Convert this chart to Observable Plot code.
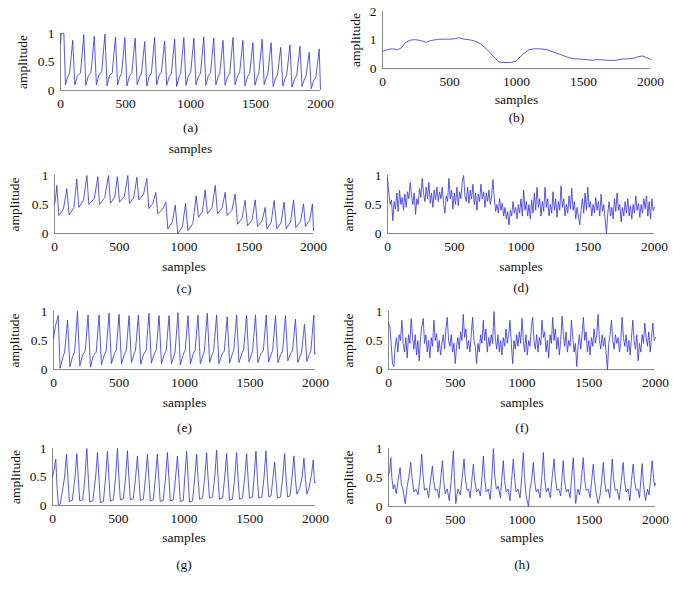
<!DOCTYPE html>
<html>
<head>
<meta charset="utf-8">
<script src="https://cdn.jsdelivr.net/npm/d3@7"></script>
<script src="https://cdn.jsdelivr.net/npm/@observablehq/plot@0.6"></script>
<style>
  body { margin: 0; background: #fff; }
  #wrap { position: relative; width: 673px; height: 589px; background: #fff; overflow: hidden; }
  #wrap svg { position: absolute; max-width: none; }
</style>
</head>
<body>
<div id="wrap"></div>
<script>
// ---------- tick labels ----------
const xTicks = [0, 500, 1000, 1500, 2000];
const yTicks = [0, 0.5, 1];
const yTicksB = [0, 1, 2];
const panelTags = ["(a)", "(b)", "(c)", "(d)", "(e)", "(f)", "(g)", "(h)"];
const xLabel = "samples";
const yLabel = "amplitude";

// ---------- series (sample, amplitude) ----------
const seriesA = [[0,0.82],[6,1],[26,1],[38,0.1],[55,0.24],[70,0.3],
[94,0.88],[110,0.1],[129,0.25],[154,0.31],
[179,0.98],[195,0.09],[214,0.26],[235,0.32],
[260,0.95],[276,0.1],[295,0.27],[317,0.33],
[342,0.99],[358,0.08],[377,0.26],[398,0.31],
[423,0.94],[439,0.1],[458,0.25],[470,0.3],
[495,0.93],[511,0.08],[530,0.25],[549,0.31],
[574,0.92],[590,0.1],[609,0.24],[623,0.3],
[648,0.86],[664,0.08],[683,0.25],[699,0.3],
[724,0.93],[740,0.1],[759,0.27],[776,0.32],
[801,0.87],[817,0.09],[836,0.24],[853,0.3],
[878,0.9],[894,0.07],[913,0.25],[924,0.3],
[949,0.93],[965,0.09],[984,0.26],[1001,0.31],
[1026,0.92],[1042,0.1],[1061,0.25],[1077,0.3],
[1102,0.94],[1118,0.09],[1137,0.26],[1154,0.31],
[1179,0.92],[1195,0.1],[1214,0.25],[1225,0.3],
[1250,0.88],[1266,0.09],[1285,0.24],[1302,0.3],
[1327,0.93],[1343,0.1],[1362,0.26],[1378,0.31],
[1403,0.88],[1419,0.08],[1438,0.24],[1455,0.3],
[1480,0.84],[1496,0.09],[1515,0.25],[1526,0.3],
[1551,0.9],[1567,0.1],[1586,0.24],[1595,0.29],
[1620,0.84],[1636,0.07],[1655,0.22],[1669,0.27],
[1694,0.76],[1710,0.08],[1729,0.22],[1740,0.27],
[1765,0.8],[1781,0.06],[1800,0.2],[1817,0.26],
[1842,0.78],[1858,0.07],[1877,0.2],[1888,0.25],
[1913,0.67],[1929,0.03],[1948,0.18],[1965,0.24],
[1990,0.73],[2000,0.02]];

const seriesB = [[0,0.6],[37,0.66],[62,0.69],[87,0.68],[112,0.66],[137,0.71],[174,0.92],[211,1.0],
[248,1.01],[286,0.98],[323,0.92],[360,0.98],[410,1.02],[460,1.03],[509,1.03],[546,1.05],[571,1.08],
[609,1.03],[658,1.0],[696,0.95],[733,0.86],[782,0.66],[832,0.4],[869,0.23],[907,0.21],[956,0.21],
[994,0.25],[1043,0.48],[1093,0.66],[1130,0.69],[1180,0.69],[1230,0.66],[1279,0.57],[1329,0.49],
[1379,0.4],[1428,0.34],[1478,0.33],[1528,0.31],[1565,0.29],[1602,0.31],[1652,0.3],[1702,0.28],
[1739,0.29],[1789,0.33],[1838,0.34],[1875,0.36],[1913,0.42],[1938,0.44],[1962,0.4],[2000,0.32]];

const seriesC = [[0,0.51],[8,0.6],[18,0.83],[33,0.31],[48,0.35],[69,0.42],[95,0.77],[113,0.32],[150,0.45],
[172,0.94],[188,0.45],[225,0.58],[250,1.0],[265,0.5],[307,0.6],[335,0.98],[347,0.5],[388,0.62],
[417,1.0],[432,0.52],[465,0.63],[486,0.98],[502,0.54],[540,0.64],[566,1.0],[579,0.52],[613,0.63],
[636,0.97],[651,0.58],[688,0.68],[713,0.95],[728,0.43],[760,0.52],[782,0.71],[798,0.34],[835,0.42],
[860,0.54],[875,0.08],[910,0.2],[932,0.49],[952,0.0],[988,0.12],[1012,0.52],[1030,0.05],[1068,0.17],
[1094,0.65],[1112,0.28],[1143,0.38],[1163,0.75],[1181,0.34],[1217,0.45],[1241,0.83],[1259,0.34],
[1294,0.44],[1318,0.71],[1333,0.31],[1370,0.4],[1395,0.68],[1413,0.16],[1448,0.26],[1472,0.57],
[1490,0.13],[1526,0.24],[1550,0.58],[1568,0.12],[1603,0.22],[1627,0.45],[1640,0.08],[1673,0.19],
[1696,0.57],[1717,0.08],[1750,0.19],[1773,0.54],[1789,0.08],[1823,0.2],[1846,0.58],[1864,0.1],
[1900,0.21],[1923,0.51],[1938,0.12],[1970,0.23],[1992,0.51],[2000,0.05]];

// (d) and (f): amplitude every 10 samples
const seriesDStep = 10;
const seriesD = [0.95,0.7,0.5,0.58,0.22,0.55,0.42,0.7,0.38,0.75,
0.5,0.62,0.4,0.68,0.45,0.72,0.6,0.88,0.65,0.5,
0.7,0.33,0.6,0.5,0.78,0.62,0.95,0.7,0.55,0.8,
0.6,0.88,0.52,0.7,0.45,0.75,0.58,0.8,0.55,0.72,
0.6,0.8,0.5,0.35,0.65,0.55,0.95,0.6,0.75,0.42,
0.7,0.5,0.8,0.48,0.72,0.6,0.9,1.0,0.65,0.55,
0.8,0.52,0.75,0.6,0.85,0.5,0.7,0.4,0.68,0.55,
0.85,0.6,0.72,0.45,0.7,0.55,0.75,0.5,0.65,0.93,
0.6,0.38,0.5,0.35,0.6,0.4,0.52,0.3,0.45,0.25,
0.38,0.15,0.4,0.3,0.55,0.35,0.45,0.25,0.5,0.35,
0.6,0.3,0.75,0.4,0.55,0.3,0.5,0.25,0.58,0.35,
0.7,0.4,0.8,0.45,0.6,0.3,0.55,0.38,0.8,0.45,
0.6,0.3,0.5,0.35,0.72,0.4,0.6,0.28,0.55,0.4,
0.82,0.45,0.6,0.3,0.5,0.35,0.65,0.42,0.78,0.4,
0.55,0.25,0.45,0.3,0.15,0.4,0.6,0.35,0.7,0.4,
0.8,0.45,0.55,0.3,0.5,0.35,0.62,0.4,0.55,0.3,
0.68,0.38,0.5,0.25,0.0,0.35,0.55,0.3,0.45,0.25,
0.6,0.38,0.7,0.4,0.5,0.2,0.45,0.3,0.55,0.35,
0.6,0.3,0.48,0.25,0.5,0.35,0.65,0.4,0.52,0.28,
0.5,0.35,0.6,0.42,0.65,0.3,0.55,0.25,0.6,0.4,
0.45];

const seriesE = [[0,0.53],[15,0.75],[36,0.93],[50,0.02],[70,0.2],[85,0.3],
[107,0.85],[125,0.05],[145,0.22],[161,0.3],
[183,1.0],[201,0.06],[222,0.25],[242,0.32],
[264,0.94],[282,0.04],[304,0.24],[326,0.3],
[348,0.94],[366,0.08],[388,0.25],[402,0.32],
[424,0.97],[442,0.1],[464,0.27],[479,0.33],
[501,0.95],[519,0.1],[541,0.26],[555,0.32],
[577,0.93],[595,0.12],[617,0.28],[626,0.33],
[648,0.94],[666,0.09],[688,0.26],[707,0.33],
[729,0.97],[747,0.11],[769,0.27],[784,0.33],
[806,0.93],[824,0.1],[846,0.26],[860,0.32],
[882,0.93],[900,0.1],[922,0.25],[928,0.3],
[950,0.98],[968,0.08],[990,0.26],[1005,0.33],
[1027,0.93],[1045,0.1],[1067,0.27],[1081,0.33],
[1103,0.94],[1121,0.1],[1143,0.26],[1152,0.32],
[1174,0.97],[1192,0.12],[1214,0.28],[1223,0.33],
[1245,0.94],[1263,0.1],[1285,0.26],[1304,0.32],
[1326,0.91],[1344,0.11],[1366,0.27],[1376,0.33],
[1398,0.94],[1416,0.12],[1438,0.28],[1452,0.34],
[1474,0.93],[1492,0.13],[1514,0.28],[1520,0.33],
[1542,0.94],[1560,0.12],[1582,0.27],[1602,0.33],
[1624,0.94],[1642,0.13],[1664,0.28],[1673,0.33],
[1695,0.93],[1713,0.12],[1735,0.26],[1749,0.32],
[1771,0.93],[1789,0.15],[1811,0.28],[1825,0.33],
[1847,0.87],[1865,0.12],[1887,0.26],[1894,0.3],
[1916,0.78],[1934,0.14],[1956,0.28],[1965,0.33],
[1987,0.94],[1993,0.27],[2000,0.27]];

const seriesFStep = 10;
const seriesF = [0.8,0.75,0.45,0.1,0.05,0.4,0.55,0.3,0.6,0.5,
0.85,0.45,0.3,0.55,0.2,0.6,0.45,0.88,0.55,0.35,
0.6,0.25,0.5,0.15,0.55,0.75,0.88,0.45,0.6,0.3,
0.5,0.2,0.55,0.4,0.85,0.5,0.62,0.3,0.5,0.25,
0.45,0.6,0.35,0.7,0.9,0.5,0.4,0.6,0.3,0.45,
0.1,0.4,0.55,0.35,0.65,0.5,0.95,0.55,0.7,0.35,
0.5,0.3,0.6,0.9,0.5,0.4,0.1,0.45,0.3,0.6,
0.45,0.85,0.5,0.7,0.3,0.55,0.4,0.6,0.45,1.0,
0.55,0.35,0.6,0.3,0.5,0.25,0.55,0.4,0.7,0.45,
0.6,0.85,0.45,0.1,0.5,0.35,0.6,0.4,0.65,0.45,
0.88,0.5,0.3,0.6,0.25,0.5,0.4,0.72,0.9,0.5,
0.35,0.6,0.3,0.55,0.42,0.85,0.55,0.65,0.3,0.5,
0.2,0.6,0.45,0.9,0.5,0.7,0.35,0.55,0.25,0.5,
0.92,0.6,0.4,0.65,0.3,0.5,0.4,0.85,0.55,0.3,
0.45,0.05,0.4,0.6,0.35,0.6,0.9,0.5,0.65,0.3,
0.5,0.25,0.55,0.4,0.7,0.45,0.6,0.95,0.5,0.35,
0.6,0.4,0.55,0.3,0.0,0.45,0.6,0.85,0.5,0.35,
0.6,0.45,0.55,0.3,0.5,0.9,0.55,0.4,0.6,0.3,
0.5,0.25,0.55,0.85,0.5,0.35,0.6,0.15,0.45,0.3,
0.6,0.45,0.8,0.55,0.4,0.65,0.3,0.55,0.8,0.5,
0.55];

const seriesG = [[0,0.5],[10,0.6],[25,0.81],[35,0.3],[45,0.01],[60,0.03],[92,0.5],
[106,0.9],[118,0.45],[128,0.07],[151,0.09],[171,0.5],
[185,0.91],[197,0.45],[207,0.08],[230,0.1],[247,0.5],
[261,1.0],[273,0.45],[283,0.06],[306,0.08],[328,0.5],
[342,0.93],[354,0.45],[364,0.05],[387,0.07],[404,0.5],
[418,0.95],[430,0.45],[440,0.08],[463,0.1],[480,0.5],
[494,1.0],[506,0.45],[516,0.1],[539,0.12],[556,0.5],
[570,0.96],[582,0.45],[592,0.1],[615,0.12],[632,0.5],
[646,0.87],[658,0.45],[668,0.09],[691,0.11],[708,0.5],
[722,0.9],[734,0.45],[744,0.08],[767,0.1],[783,0.5],
[797,0.9],[809,0.45],[819,0.07],[842,0.09],[860,0.5],
[874,0.93],[886,0.45],[896,0.08],[919,0.1],[936,0.5],
[950,0.87],[962,0.45],[972,0.07],[995,0.09],[1006,0.5],
[1020,0.95],[1032,0.45],[1042,0.06],[1065,0.08],[1082,0.5],
[1096,0.9],[1108,0.45],[1118,0.11],[1141,0.13],[1158,0.5],
[1172,0.93],[1184,0.45],[1194,0.13],[1217,0.15],[1234,0.5],
[1248,0.97],[1260,0.45],[1270,0.11],[1293,0.13],[1310,0.5],
[1324,0.91],[1336,0.45],[1346,0.09],[1369,0.11],[1386,0.5],
[1400,0.93],[1412,0.45],[1422,0.11],[1445,0.13],[1462,0.5],
[1476,0.91],[1488,0.45],[1498,0.13],[1521,0.15],[1533,0.5],
[1547,0.95],[1559,0.45],[1569,0.13],[1592,0.15],[1609,0.5],
[1623,0.96],[1635,0.45],[1645,0.15],[1662,0.17],[1675,0.45],
[1689,0.76],[1701,0.4],[1711,0.13],[1734,0.15],[1751,0.5],
[1765,0.91],[1777,0.45],[1787,0.15],[1806,0.17],[1822,0.5],
[1836,0.87],[1848,0.45],[1858,0.2],[1880,0.3],[1898,0.5],
[1912,0.83],[1924,0.45],[1934,0.2],[1950,0.3],[1970,0.55],
[1983,0.8],[1992,0.4],[2000,0.4]];

const seriesH = [[0,0.55],[8,0.6],[17,0.84],[25,0.5],[35,0.3],[45,0.38],[58,0.22],[72,0.45],
[87,0.67],[95,0.4],[108,0.3],[125,0.05],[140,0.35],[152,0.5],
[167,0.76],[176,0.5],[190,0.25],[205,0.3],[222,0.2],[236,0.5],
[249,0.9],[258,0.55],[270,0.28],[285,0.32],[300,0.15],[315,0.45],
[329,0.7],[338,0.45],[350,0.28],[365,0.3],[378,0.15],[392,0.5],
[404,0.79],[413,0.45],[425,0.22],[440,0.3],[455,0.1],[470,0.45],
[486,0.96],[494,0.5],[504,0.05],[520,0.3],[538,0.2],[552,0.5],
[566,0.82],[575,0.5],[588,0.28],[600,0.3],[612,0.15],[624,0.45],
[636,0.73],[645,0.45],[660,0.25],[675,0.3],[688,0.18],[700,0.5],
[711,0.87],[720,0.5],[732,0.25],[748,0.3],[762,0.12],[774,0.5],
[786,1.0],[795,0.55],[808,0.3],[822,0.35],[838,0.15],[848,0.45],
[860,0.79],[869,0.45],[882,0.25],[896,0.3],[910,0.1],[922,0.45],
[935,0.82],[944,0.5],[956,0.25],[970,0.3],[985,0.15],[998,0.5],
[1010,0.93],[1019,0.5],[1030,0.2],[1048,0.0],[1060,0.3],[1072,0.45],
[1085,0.76],[1094,0.45],[1106,0.25],[1120,0.3],[1135,0.15],[1148,0.5],
[1160,0.93],[1169,0.5],[1182,0.25],[1196,0.32],[1212,0.15],[1226,0.5],
[1240,0.82],[1249,0.5],[1262,0.28],[1276,0.3],[1290,0.18],[1298,0.45],
[1309,0.79],[1318,0.45],[1332,0.25],[1346,0.3],[1360,0.15],[1372,0.5],
[1384,0.84],[1393,0.45],[1402,0.05],[1418,0.3],[1432,0.2],[1446,0.5],
[1459,0.84],[1468,0.5],[1480,0.28],[1495,0.3],[1510,0.15],[1522,0.45],
[1534,0.73],[1543,0.45],[1556,0.22],[1570,0.05],[1585,0.2],[1597,0.45],
[1609,0.76],[1618,0.45],[1630,0.25],[1645,0.3],[1658,0.15],[1666,0.45],
[1676,0.82],[1685,0.5],[1698,0.28],[1712,0.3],[1728,0.12],[1744,0.45],
[1758,0.76],[1767,0.45],[1780,0.25],[1795,0.3],[1808,0.1],[1820,0.45],
[1833,0.73],[1842,0.45],[1855,0.28],[1868,0.3],[1880,0.15],[1890,0.45],
[1900,0.74],[1909,0.4],[1925,0.1],[1940,0.3],[1952,0.2],[1964,0.5],
[1975,0.79],[1985,0.5],[1993,0.35],[2000,0.4]];

// ---------- build ----------
const toPairs = (vals, step) => vals.map((v, i) => [i * step, v]);

const layout = [
  {data: seriesA, tag: panelTags[0], x0: 60,  x1: 320, yt: 33,  yb: 90,  samplesY: 148, tagY: 127, ampX: 22,  yDomain: [0,1], yT: yTicks},
  {data: seriesB, tag: panelTags[1], x0: 382, x1: 650, yt: 11,  yb: 68,  samplesY: 99,  tagY: 117, ampX: 355, yDomain: [0,2], yT: yTicksB},
  {data: seriesC, tag: panelTags[2], x0: 54,  x1: 313, yt: 175, yb: 233, samplesY: 266, tagY: 288, ampX: 14,  yDomain: [0,1], yT: yTicks},
  {data: toPairs(seriesD, seriesDStep), tag: panelTags[3], x0: 387, x1: 654, yt: 175, yb: 233, samplesY: 266, tagY: 287, ampX: 348, yDomain: [0,1], yT: yTicks},
  {data: seriesE, tag: panelTags[4], x0: 53,  x1: 315, yt: 311, yb: 369, samplesY: 402, tagY: 427, ampX: 14,  yDomain: [0,1], yT: yTicks},
  {data: toPairs(seriesF, seriesFStep), tag: panelTags[5], x0: 388, x1: 655, yt: 311, yb: 369, samplesY: 402, tagY: 427, ampX: 348, yDomain: [0,1], yT: yTicks},
  {data: seriesG, tag: panelTags[6], x0: 52,  x1: 315, yt: 448, yb: 505, samplesY: 537, tagY: 564, ampX: 15,  yDomain: [0,1], yT: yTicks},
  {data: seriesH, tag: panelTags[7], x0: 388, x1: 655, yt: 448, yb: 506, samplesY: 537, tagY: 564, ampX: 348, yDomain: [0,1], yT: yTicks}
];

const wrap = document.getElementById("wrap");
const ml = 50, mt = 12, mr = 16, mb = 80;
const fontFamily = "'Liberation Serif', 'Times New Roman', serif";

for (const p of layout) {
  const chart = Plot.plot({
    width: (p.x1 - p.x0) + ml + mr,
    height: (p.yb - p.yt) + mt + mb,
    marginLeft: ml, marginTop: mt, marginRight: mr, marginBottom: mb,
    style: {fontFamily, fontSize: "13.5px", background: "none", overflow: "visible", color: "#111"},
    x: {domain: [0, 2000], ticks: xTicks, tickSize: 0, tickPadding: 8, label: null, tickFormat: d => String(d)},
    y: {domain: p.yDomain, ticks: p.yT, tickSize: 0, tickPadding: 6, label: null, tickFormat: d => String(d)},
    marks: [
      Plot.ruleY([p.yDomain[0]], {stroke: "#8a8a8a", strokeWidth: 1}),
      Plot.ruleX([0], {stroke: "#8a8a8a", strokeWidth: 1}),
      Plot.line(p.data, {x: d => d[0], y: d => d[1], stroke: "#3b3bdc", strokeWidth: 0.85}),
      Plot.text([yLabel], {frameAnchor: "left", dx: p.ampX - p.x0, rotate: -90, textAnchor: "middle", lineAnchor: "middle", fontSize: 13.5, fill: "#111"}),
      Plot.text([xLabel], {frameAnchor: "bottom", dy: p.samplesY - p.yb, textAnchor: "middle", lineAnchor: "middle", fontSize: 13.5, fill: "#111"}),
      Plot.text([p.tag], {frameAnchor: "bottom", dy: p.tagY - p.yb, textAnchor: "middle", lineAnchor: "middle", fontSize: 13.5, fill: "#111"})
    ]
  });
  chart.style.left = (p.x0 - ml) + "px";
  chart.style.top = (p.yt - mt) + "px";
  wrap.appendChild(chart);
}
</script>
</body>
</html>
